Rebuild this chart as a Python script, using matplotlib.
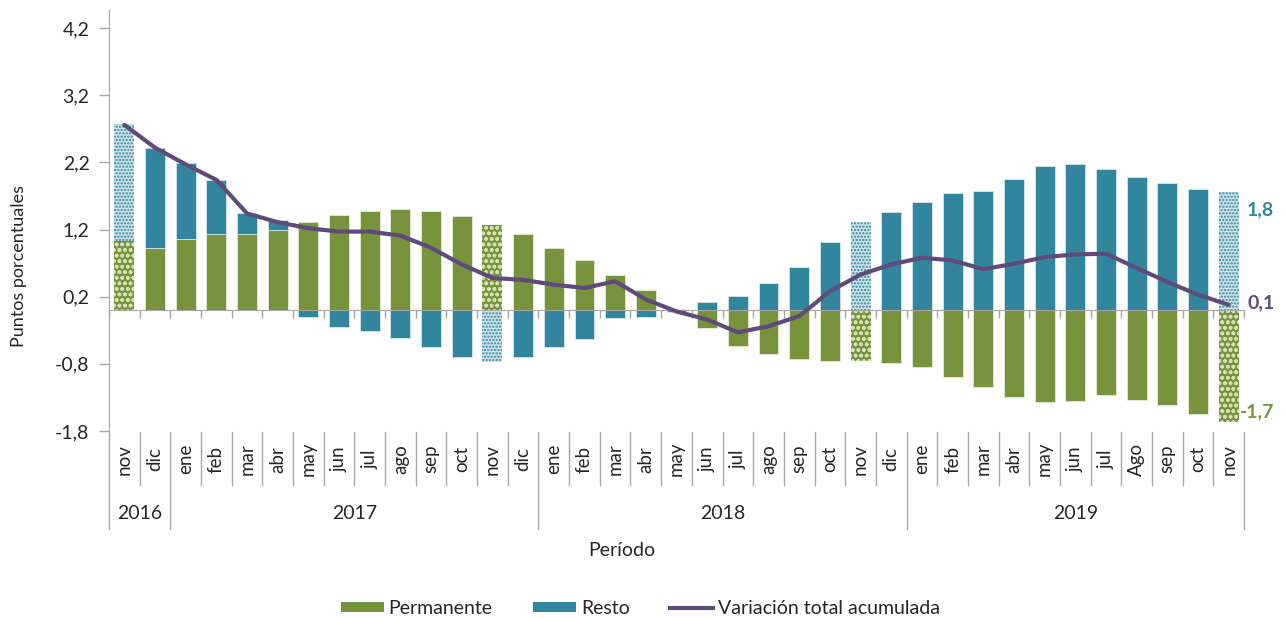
import numpy as np
import matplotlib
matplotlib.use("Agg")
import matplotlib.pyplot as plt
from matplotlib.patches import Patch
from matplotlib.lines import Line2D
import matplotlib.transforms as mtransforms

plt.rcParams['font.family'] = ['Lato', 'DejaVu Sans']
plt.rcParams['hatch.linewidth'] = 1.1

months = ['nov', 'dic',
          'ene', 'feb', 'mar', 'abr', 'may', 'jun', 'jul', 'ago', 'sep', 'oct', 'nov', 'dic',
          'ene', 'feb', 'mar', 'abr', 'may', 'jun', 'jul', 'ago', 'sep', 'oct', 'nov', 'dic',
          'ene', 'feb', 'mar', 'abr', 'may', 'jun', 'jul', 'Ago', 'sep', 'oct', 'nov']
years = ['2016', '2017', '2018', '2019']
year_counts = [2, 12, 12, 11]

permanente = [1.03, 0.92, 1.06, 1.14, 1.14, 1.20, 1.31, 1.41, 1.48, 1.51, 1.48, 1.40, 1.27, 1.14,
              0.93, 0.75, 0.53, 0.30, 0.02, -0.27, -0.53, -0.65, -0.73, -0.76, -0.76, -0.79,
              -0.84, -0.99, -1.15, -1.29, -1.37, -1.36, -1.26, -1.34, -1.42, -1.54, -1.66]
resto = [1.74, 1.50, 1.13, 0.80, 0.30, 0.14, -0.10, -0.25, -0.31, -0.41, -0.55, -0.70, -0.77, -0.70,
         -0.55, -0.43, -0.12, -0.10, -0.03, 0.12, 0.21, 0.40, 0.64, 1.02, 1.31, 1.46,
         1.61, 1.74, 1.77, 1.96, 2.14, 2.17, 2.10, 1.99, 1.90, 1.81, 1.76]
variacion = [2.76, 2.42, 2.17, 1.94, 1.44, 1.31, 1.22, 1.17, 1.17, 1.11, 0.93, 0.68, 0.48, 0.45,
             0.38, 0.33, 0.43, 0.16, -0.02, -0.14, -0.33, -0.24, -0.09, 0.28, 0.53, 0.68,
             0.78, 0.74, 0.61, 0.69, 0.79, 0.83, 0.84, 0.63, 0.42, 0.23, 0.08]
highlight = [0, 12, 24, 36]
end_labels = ['1,8', '0,1', '-1,7']

GREEN = '#77933C'
TEAL = '#31859C'
PURPLE = '#604A7B'
GRAY = '#A6A6A6'
TXT = '#262626'
FS = 14

perm = np.array(permanente)
res = np.array(resto)
x = np.arange(len(months))
res_bottom = np.where(res >= 0, np.maximum(perm, 0), np.minimum(perm, 0))

fig = plt.figure(figsize=(12.86, 6.18), dpi=100)
ax = fig.add_axes([109 / 1286, 1 - 431 / 618, (1244 - 109) / 1286, 421 / 618])

w = 0.65
for i in x:
    if i in highlight:
        ax.bar(i, perm[i], width=w, color=GREEN, edgecolor='#D2E0B6', hatch='ooo', linewidth=0, zorder=2)
        ax.bar(i, res[i], bottom=res_bottom[i], width=w, color='#CFE4EA', edgecolor=TEAL,
               hatch='.....', linewidth=0, zorder=2)
    else:
        ax.bar(i, perm[i], width=w, color=GREEN, edgecolor='#E6ECDA', linewidth=0.6, zorder=2)
        ax.bar(i, res[i], bottom=res_bottom[i], width=w, color=TEAL, edgecolor='#D5E6EB',
               linewidth=0.6, zorder=2)

ax.plot(x, variacion, color=PURPLE, lw=3.0, solid_joinstyle='round', solid_capstyle='round', zorder=4)

ax.set_xlim(-0.5, len(months) - 0.5)
ax.set_ylim(-1.8, 4.47)

yt = np.arange(-1.8, 4.3, 1.0)
ax.set_yticks(yt)
ax.set_yticklabels([f"{v:.1f}".replace('.', ',') for v in yt], fontsize=FS, color=TXT)
ax.tick_params(axis='y', length=7, width=1, color=GRAY, pad=7)

for s in ['top', 'right']:
    ax.spines[s].set_visible(False)
ax.spines['left'].set_color(GRAY)
ax.spines['bottom'].set_color(GRAY)
ax.spines['bottom'].set_position(('data', 0))
ax.spines['bottom'].set_zorder(3)
ax.set_xticks(np.arange(-0.5, len(months), 1.0))
ax.set_xticklabels([])
ax.tick_params(axis='x', length=6, width=1, color=GRAY, direction='out')

ax.set_ylabel('Puntos porcentuales', fontsize=13, color=TXT)
ax.yaxis.set_label_coords(-0.072, 0.392)

# category table under the plot
trans = mtransforms.blended_transform_factory(ax.transData, ax.transAxes)
for i, m in enumerate(months):
    ax.text(i, -0.067, m, rotation=90, ha='center', va='center', fontsize=13.5,
            color=TXT, transform=trans)
year_bounds = np.concatenate([[0], np.cumsum(year_counts)]) - 0.5
for b in np.arange(0.5, len(months) - 1, 1.0):
    if b not in year_bounds:
        ax.plot([b, b], [-0.003, -0.128], color=GRAY, lw=1, transform=trans, clip_on=False)
for b in year_bounds:
    ax.plot([b, b], [-0.003, -0.232], color=GRAY, lw=1, transform=trans, clip_on=False)
for j, yname in enumerate(years):
    c = (year_bounds[j] + year_bounds[j + 1]) / 2
    ax.text(c, -0.197, yname, ha='center', va='center', fontsize=FS, color=TXT, transform=trans)

# end labels
last = len(months) - 1
ax.text(last + 0.6, res[last] - 0.26, end_labels[0], color=TEAL, fontsize=FS,
        fontweight='bold', ha='left', va='center')
ax.text(last + 0.6, variacion[last] + 0.03, end_labels[1], color=PURPLE, fontsize=FS,
        fontweight='bold', ha='left', va='center')
ax.text(last + 0.35, perm[last] + 0.14, end_labels[2], color=GREEN, fontsize=FS,
        fontweight='bold', ha='left', va='center')

fig.text(622 / 1286, 1 - 551 / 618, 'Período', ha='center', va='center', fontsize=FS, color=TXT)

handles = [Patch(facecolor=GREEN, edgecolor='none', label='Permanente'),
           Patch(facecolor=TEAL, edgecolor='none', label='Resto'),
           Line2D([0], [0], color=PURPLE, lw=3, label='Variación total acumulada')]
fig.legend(handles=handles, loc='center', bbox_to_anchor=(0.498, 0.016), ncol=3, frameon=False,
           fontsize=FS, handlelength=2.2, handleheight=0.42, handletextpad=0.25,
           columnspacing=2.1, labelcolor=TXT)

fig.savefig('out.png', dpi=100)
